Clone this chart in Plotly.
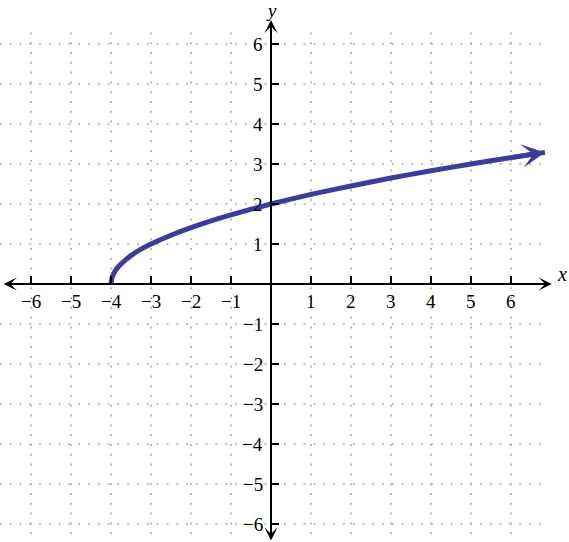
import plotly.graph_objects as go

# ---- data ----
x_ticks = [-6, -5, -4, -3, -2, -1, 1, 2, 3, 4, 5, 6]
y_ticks = [-6, -5, -4, -3, -2, -1, 1, 2, 3, 4, 5, 6]
grid_x = [-6, -5, -4, -3, -2, -1, 1, 2, 3, 4, 5, 6]
grid_y = [-6, -5, -4, -3, -2, -1, 1, 2, 3, 4, 5, 6]

curve_x = [-4.0, -3.97, -3.9, -3.8, -3.65, -3.5, -3.25, -3.0, -2.5, -2.0, -1.5,
           -1.0, 0.0, 1.0, 2.0, 3.0, 4.0, 5.0, 6.0, 6.85]
curve_y = [0.0, 0.17, 0.32, 0.45, 0.59, 0.71, 0.87, 1.0, 1.22, 1.41, 1.58,
           1.73, 2.0, 2.24, 2.45, 2.65, 2.83, 3.0, 3.16, 3.29]

# ---- layout constants ----
X_RANGE = [-6.775, 7.45]
Y_RANGE = [-6.45, 7.1]
X_AXIS_EXT = [-6.72, 7.02]
Y_AXIS_EXT = [-6.45, 6.6]
GRID_H_EXT = [-6.78, 6.85]
GRID_V_EXT = [-6.5, 6.42]
CURVE_COLOR = "#3d3d99"
FONT = "Liberation Serif, Times New Roman, serif"

fig = go.Figure()

shapes = []
for gx in grid_x:
    shapes.append(dict(type="line", xref="x", yref="y", x0=gx, x1=gx,
                       y0=GRID_V_EXT[0], y1=GRID_V_EXT[1], layer="below",
                       line=dict(color="#a8a8a8", width=1.6, dash="2px,7.8px")))
for gy in grid_y:
    shapes.append(dict(type="line", xref="x", yref="y", y0=gy, y1=gy,
                       x0=GRID_H_EXT[0], x1=GRID_H_EXT[1], layer="below",
                       line=dict(color="#a8a8a8", width=1.6, dash="2px,7.8px")))
# tick marks
for t in x_ticks:
    shapes.append(dict(type="line", xref="x", yref="y", x0=t, x1=t, y0=0, y1=0.2,
                       line=dict(color="black", width=2)))
for t in y_ticks:
    shapes.append(dict(type="line", xref="x", yref="y", y0=t, y1=t, x0=0, x1=0.2,
                       line=dict(color="black", width=2)))

annotations = []
# axes with arrows on both ends
annotations.append(dict(x=X_AXIS_EXT[1], y=0, ax=X_AXIS_EXT[0], ay=0,
                        xref="x", yref="y", axref="x", ayref="y", text="",
                        showarrow=True, arrowhead=3, arrowside="end+start",
                        arrowwidth=2, arrowsize=1.1, arrowcolor="black"))
annotations.append(dict(x=0, y=Y_AXIS_EXT[1], ax=0, ay=Y_AXIS_EXT[0],
                        xref="x", yref="y", axref="x", ayref="y", text="",
                        showarrow=True, arrowhead=3, arrowside="end+start",
                        arrowwidth=2, arrowsize=1.1, arrowcolor="black"))


def lab(v):
    return ("\u2212" + str(abs(v))) if v < 0 else str(v)


for t in x_ticks:
    annotations.append(dict(x=t, y=0, xref="x", yref="y", text=lab(t), showarrow=False,
                            yshift=-17, xanchor="center", yanchor="middle",
                            font=dict(family=FONT, size=19, color="black")))
for t in y_ticks:
    annotations.append(dict(x=0, y=t, xref="x", yref="y", text=lab(t), showarrow=False,
                            xshift=-6, xanchor="right", yanchor="middle",
                            font=dict(family=FONT, size=19, color="black")))
# axis names
annotations.append(dict(x=X_AXIS_EXT[1], y=0, xref="x", yref="y", text="<i>x</i>",
                        showarrow=False, xanchor="left", yanchor="bottom", xshift=3, yshift=-3,
                        font=dict(family=FONT, size=20, color="black")))
annotations.append(dict(x=0, y=Y_AXIS_EXT[1], xref="x", yref="y", text="<i>y</i>",
                        showarrow=False, xanchor="center", yanchor="bottom", yshift=-3,
                        font=dict(family=FONT, size=19, color="black")))

# curve
fig.add_trace(go.Scatter(x=curve_x, y=curve_y, mode="lines",
                         line=dict(color=CURVE_COLOR, width=5, shape="spline", smoothing=0.6),
                         hoverinfo="skip"))
# arrow head at the end of the curve
annotations.append(dict(x=curve_x[-1], y=curve_y[-1], ax=curve_x[-2], ay=curve_y[-2],
                        xref="x", yref="y", axref="x", ayref="y", text="",
                        showarrow=True, arrowhead=3, arrowwidth=5, arrowsize=0.78,
                        arrowcolor=CURVE_COLOR))

fig.update_layout(
    width=569, height=542,
    margin=dict(l=0, r=0, t=0, b=0),
    paper_bgcolor="white", plot_bgcolor="white",
    showlegend=False,
    xaxis=dict(range=X_RANGE, visible=False, fixedrange=True),
    yaxis=dict(range=Y_RANGE, visible=False, fixedrange=True),
    shapes=shapes, annotations=annotations,
)

fig.write_html("out.html", config={"displayModeBar": False},
               post_script="document.body.style.margin='0px';document.body.style.overflow='hidden';")
